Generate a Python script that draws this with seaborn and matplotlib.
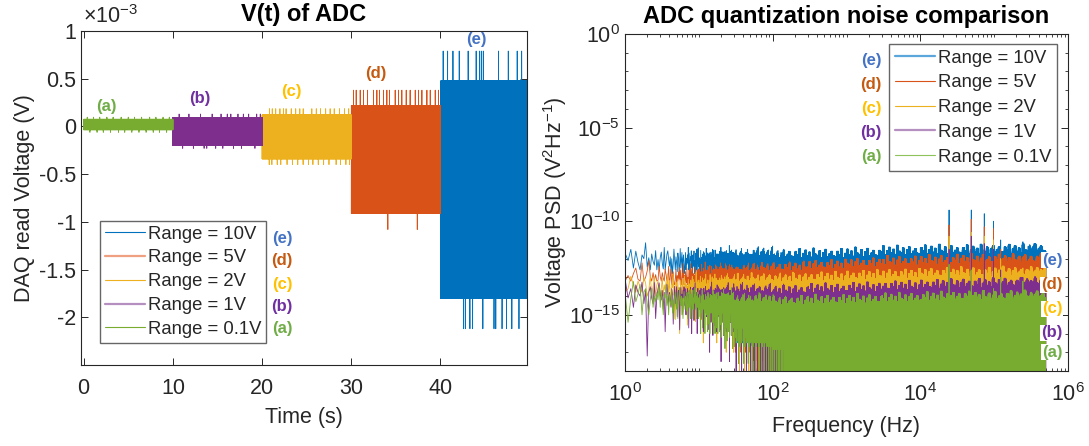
import numpy as np
import pandas as pd
import matplotlib
matplotlib.use('Agg')
import matplotlib.pyplot as plt
from matplotlib.lines import Line2D
from matplotlib.ticker import FixedLocator, LogLocator, NullFormatter
import seaborn as sns

sns.set_style('ticks')
plt.rcParams['font.family'] = ['Liberation Sans', 'DejaVu Sans']
plt.rcParams['mathtext.fontset'] = 'custom'
plt.rcParams['mathtext.rm'] = 'Liberation Sans'
plt.rcParams['mathtext.it'] = 'Liberation Sans:italic'
plt.rcParams['mathtext.bf'] = 'Liberation Sans:bold'
plt.rcParams['mathtext.default'] = 'regular'
plt.rcParams['axes.unicode_minus'] = False

# ---- common ----
ranges = ['Range = 10V', 'Range = 5V', 'Range = 2V', 'Range = 1V', 'Range = 0.1V']
tags = ['(e)', '(d)', '(c)', '(b)', '(a)']
line_colors = ['#0072BD', '#D95319', '#EDB120', '#7E2F8E', '#77AC30']
tag_colors = ['#4472C4', '#C55A11', '#FFC000', '#7030A0', '#70AD47']

# ---- V(t) of ADC, values in 1e-3 V ----
seg_start = [40, 30, 20, 10, 0]
seg_end = [49.8, 40, 30, 20, 10]
band_lo = [-1.80, -0.91, -0.34, -0.20, -0.035]
band_hi = [0.476, 0.22, 0.12, 0.095, 0.075]
spike_hi = [0.79, 0.38, 0.186, 0.13, 0.097]
spike_lo = [-2.12, -1.08, -0.40, -0.23, -0.062]
up_times = [
    [40.3, 40.8, 41.4, 42.1, 42.8, 43.1, 44.0, 44.4, 44.6, 44.8, 46.0, 46.2, 46.5, 47.6, 48.0, 48.6, 49.1],
    [30.25, 30.55, 31.0, 31.37, 31.82, 32.49, 32.87, 33.16, 33.61, 33.99, 34.29, 34.92, 35.3,
     35.67, 36.16, 36.6, 37.17, 37.54, 37.92, 38.48, 38.85, 39.41, 39.78],
    [20.84, 21.14, 21.53, 22.0, 22.39, 22.69, 23.27, 23.77, 24.23, 24.61, 25.2, 25.58, 26.08,
     26.55, 27.13, 27.63, 28.09, 28.67, 29.25, 29.71],
    [10.7, 11.8, 12.3, 13.1, 13.8, 14.4, 15.4, 16.1, 16.5, 17.3, 17.9, 18.5, 19.4, 19.8],
    [0.4, 1.1, 1.8, 2.6, 3.3, 4.2, 5.0, 5.7, 6.5, 7.4, 8.1, 8.9, 9.6],
]
dn_times = [
    [42.6, 42.8, 43.3, 43.6, 44.75, 46.0, 46.2, 46.9, 47.4, 48.0, 48.8],
    [34.1, 37.4],
    [20.8, 21.1, 21.7, 22.1, 22.8, 23.4, 24.0, 24.6, 25.2, 25.7, 26.3, 26.9, 27.5, 28.3, 28.8, 29.4, 29.8],
    [11.1, 12.3, 13.5, 13.8, 14.8, 15.6, 16.8, 17.7, 19.2],
    [0.7, 1.5, 2.2, 3.0, 3.9, 4.6, 5.4, 6.2, 7.0, 7.8, 8.5, 9.3],
]

# ---- PSD, log10 values ----
psd_knots = [1, 2, 4, 10, 30, 100, 300, 1e3, 3e3, 1e4, 3e4, 1e5, 3e5]
psd_top = [
    [-11.6, -11.65, -11.7, -11.75, -11.85, -11.95, -11.95, -11.9, -11.8, -11.75, -11.75, -11.72, -11.65],
    [-12.5, -12.55, -12.6, -12.6, -12.65, -12.65, -12.55, -12.45, -12.35, -12.3, -12.25, -12.25, -12.22],
    [-13.0, -13.1, -13.15, -13.15, -13.2, -13.25, -13.2, -13.12, -13.05, -12.98, -12.95, -12.92, -12.9],
    [-13.3, -13.5, -13.6, -13.7, -13.8, -13.88, -13.82, -13.77, -13.68, -13.6, -13.55, -13.5, -13.5],
    [-13.5, -13.7, -13.8, -14.0, -14.3, -14.45, -14.42, -14.38, -14.32, -14.26, -14.22, -14.2, -14.18],
]
floor_knots = [1, 2, 4, 10, 20, 30, 50]
psd_floor = [
    [-12.6, -12.6, -12.8, -13.5, -15.0, -16.5, -30],
    [-13.2, -13.2, -13.4, -14.0, -15.5, -17.0, -30],
    [-13.8, -14.0, -16.0, -16.5, -17.0, -18.0, -30],
    [-14.6, -17.2, -16.0, -17.0, -17.5, -19.0, -30],
    [-16.0, -15.0, -15.2, -16.0, -16.8, -17.6, -30],
]
depth_cycle = [0.1, 0.5, -0.2, 0.9, 0.0, 0.6, 1.4, 0.2, 0.4, -0.3,
               0.8, 0.3, 2.1, 0.1, 0.5, 0.7, -0.1, 1.1, 0.4, 4.8,
               0.3, 0.0, 0.6, 0.9, -0.25, 1.7, 0.5, 0.1, -0.35, 0.4,
               0.7, 0.2, 1.2, 0.3, 2.4, 0.6, -0.15, 0.4, 0.9, 0.2,
               0.5, 1.0, 0.0, 0.3, 1.9, 0.6, -0.2, 0.8, 0.4, -0.1,
               1.5, 0.3, 0.1, 0.7, 2.2, 0.5, -0.3, 0.9, 0.3, 0.6]
# how far the upward excursions reach, per 2-pixel slice of the frequency axis
peak_scale = [0.2, 1.0, 0.5, 1.4, 0.0, 0.7, 1.2, 0.3, 0.9, 0.1, 1.5,
              0.6, 0.4, 1.1, 0.0, 0.8, 1.3, 0.2, 0.6, 1.0, 0.3]
cycle_shift = [0, 17, 34, 9, 43]
tone_hz = [2.45e4, 4.9e4, 7.35e4, 9.8e4, 1.225e5, 2.45e5]
tone_peak = [
    [-9.4, -9.4, -9.6, -10.0, -11.0, -11.1],
    [-10.2, -9.9, -10.3, -10.4, -11.5, -11.9],
    [-10.8, -10.6, -10.8, -11.0, -12.0, -12.5],
    [-11.5, -10.8, -11.2, -11.5, -12.6, -13.0],
    [-12.3, -12.6, -13.7, -13.6, -13.0, -13.2],
]

# build V(t) table
rows = []
for k in range(5):
    t = np.linspace(seg_start[k], seg_end[k], 3000)
    v = np.where(np.arange(len(t)) % 2 == 0, band_lo[k], band_hi[k])
    for ts in up_times[k]:
        v[np.argmin(np.abs(t - ts))] = spike_hi[k]
    for ts in dn_times[k]:
        v[np.argmin(np.abs(t - ts))] = spike_lo[k]
    rows.append(pd.DataFrame({'t': t, 'v': v, 'range': ranges[k]}))
vt = pd.concat(rows, ignore_index=True)

# build PSD table
freq = np.unique(np.round(np.geomspace(1, 5e5, 60000), 1))
ki = np.searchsorted(psd_knots, freq, side='right') - 1
fi = np.searchsorted(floor_knots, freq, side='right') - 1
cyc = np.array(depth_cycle)
slice_id = (np.log10(freq) * 74 / 2).astype(int)
rows = []
for k in range(5):
    top = np.array(psd_top[k])[ki]
    lo = np.array(psd_floor[k])[fi]
    depth = cyc[(np.arange(len(freq)) + cycle_shift[k]) % len(cyc)]
    reach = np.array(peak_scale)[(slice_id + 5 * k) % len(peak_scale)]
    depth = np.where(depth < 0, depth * reach, depth)
    val = np.maximum(top - depth, lo)
    for fh, pk in zip(tone_hz, tone_peak[k]):
        val[np.argmin(np.abs(freq - fh))] = pk
    rows.append(pd.DataFrame({'f': freq, 'psd': 10.0 ** val, 'range': ranges[k]}))
psd = pd.concat(rows, ignore_index=True)

pal = dict(zip(ranges, line_colors))
W, H = 1089, 446
fig = plt.figure(figsize=(W / 100, H / 100), dpi=100)
ax1 = fig.add_axes([81 / W, (H - 365) / H, 446 / W, 334 / H])
ax2 = fig.add_axes([625 / W, (H - 371) / H, 443 / W, 337 / H])

dark = '#262626'
fs = 15.5

# ---- left ----
sns.lineplot(data=vt, x='t', y='v', hue='range', hue_order=ranges, palette=pal,
             estimator=None, sort=False, linewidth=0.6, legend=False, ax=ax1)
ax1.set_xlim(-0.3, 49.7)
ax1.set_ylim(-2.5, 1.0)
ax1.set_xticks([0, 10, 20, 30, 40])
ax1.set_yticks([-2, -1.5, -1, -0.5, 0, 0.5, 1])
ax1.set_yticklabels(['-2', '-1.5', '-1', '-0.5', '0', '0.5', '1'])
ax1.set_xlabel('Time (s)', fontsize=fs, color=dark, labelpad=6)
ax1.set_ylabel('DAQ read Voltage (V)', fontsize=fs, color=dark, labelpad=3)
ax1.set_title('V(t) of ADC', fontsize=17, fontweight='bold', pad=7)
fig.text(83 / W, 1 - 17 / H, r'$\times10^{-3}$', fontsize=fs, color=dark, ha='left', va='center')

for (x, y), tg, c in zip([(44.0, 0.91), (32.7, 0.55), (23.3, 0.37), (13.0, 0.29), (2.5, 0.21)],
                         tags, tag_colors):
    ax1.text(x, y, tg, color=c, fontsize=12, fontweight='bold', ha='center', va='center')

h1 = [Line2D([], [], color=c, lw=w) for c, w in
      zip(['#0072BD', '#F0A080', '#EDB120', '#B58FC0', '#77AC30'], [0.8, 1.6, 0.8, 1.6, 0.8])]
leg1 = ax1.legend(h1, ranges, loc='upper left', bbox_to_anchor=((100 - 81) / 446, (365 - 221) / 334),
                  fontsize=13.3, frameon=True, fancybox=False, framealpha=1, edgecolor='#666666',
                  handlelength=2.2, handletextpad=0.15, labelspacing=0.37, borderpad=0.25,
                  borderaxespad=0)
leg1.get_frame().set_linewidth(1.0)
for yy, tg, c in zip([238, 261, 284, 307, 329], tags, tag_colors):
    fig.text(282 / W, 1 - yy / H, tg, color=c, fontsize=12, fontweight='bold', ha='center', va='center')

# ---- right ----
sns.lineplot(data=psd, x='f', y='psd', hue='range', hue_order=ranges, palette=pal,
             estimator=None, sort=False, linewidth=0.6, legend=False, ax=ax2)
ax2.set_xscale('log')
ax2.set_yscale('log')
ax2.set_xlim(1, 1e6)
ax2.set_ylim(1e-18, 1)
ax2.xaxis.set_major_locator(FixedLocator([1, 1e2, 1e4, 1e6]))
ax2.xaxis.set_minor_locator(LogLocator(base=10, subs=np.arange(1, 10), numticks=30))
ax2.xaxis.set_minor_formatter(NullFormatter())
ax2.yaxis.set_major_locator(FixedLocator([1e-15, 1e-10, 1e-5, 1]))
ax2.yaxis.set_minor_locator(LogLocator(base=10, subs=(1.0,), numticks=40))
ax2.yaxis.set_minor_formatter(NullFormatter())
ax2.set_xlabel('Frequency (Hz)', fontsize=fs, color=dark, labelpad=7)
ax2.set_ylabel(r'Voltage PSD (V$^2$Hz$^{-1}$)', fontsize=fs, color=dark, labelpad=0)
ax2.set_title('ADC quantization noise comparison', fontsize=17, fontweight='bold', pad=8)

h2 = [Line2D([], [], color=c, lw=w) for c, w in
      zip(['#5BA6DB', '#D95319', '#EDB120', '#B58FC0', '#8EC25A'], [1.6, 0.8, 0.8, 1.6, 0.8])]
leg2 = ax2.legend(h2, ranges, loc='upper right', bbox_to_anchor=((1057 - 625) / 443, (371 - 44) / 337),
                  fontsize=13.3, frameon=True, fancybox=False, framealpha=1, edgecolor='#666666',
                  handlelength=2.2, handletextpad=0.15, labelspacing=0.42, borderpad=0.3,
                  borderaxespad=0)
leg2.get_frame().set_linewidth(1.0)
for yy, tg, c in zip([61, 85, 109, 133, 157], tags, tag_colors):
    fig.text(871 / W, 1 - yy / H, tg, color=c, fontsize=12, fontweight='bold', ha='center', va='center')
for yy, tg, c in zip([260, 285, 309, 333, 352], tags, tag_colors):
    fig.text(1052 / W, 1 - yy / H, tg, color=c, fontsize=12, fontweight='bold', ha='center', va='center',
             bbox=dict(facecolor='white', edgecolor='none', pad=0.6))

for ax in (ax1, ax2):
    for s in ax.spines.values():
        s.set_color(dark)
        s.set_linewidth(0.8)
    ax.tick_params(which='major', direction='in', top=True, right=True, length=5, width=0.7,
                   labelsize=fs, colors=dark)
    ax.tick_params(which='minor', direction='in', top=True, right=True, length=2.5, width=0.6, colors=dark)
    ax.tick_params(axis='x', which='major', pad=9)
    ax.title.set_color('black')

fig.savefig('out.png', dpi=100)
